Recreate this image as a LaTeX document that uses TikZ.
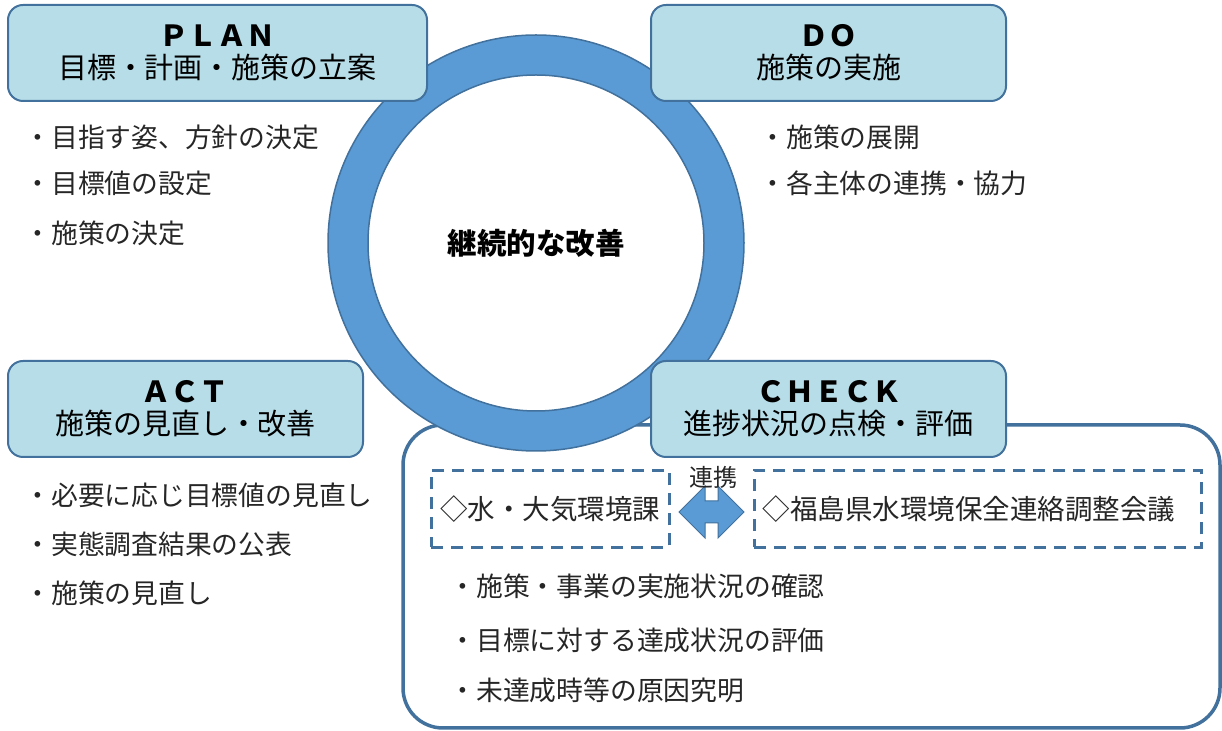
\documentclass[tikz,border=0pt]{standalone}
\usepackage{fontspec}
\setmainfont{Noto Sans CJK JP}
\usetikzlibrary{shapes.arrows,calc}
\definecolor{boxfill}{HTML}{B7DEE8}
\definecolor{boxline}{HTML}{41719C}
\definecolor{ringfill}{HTML}{5B9BD5}
\definecolor{textgray}{HTML}{262626}

\begin{document}
\begin{tikzpicture}[x=0.5pt,y=-0.5pt,
		phase/.style={draw=boxline, line width=1pt, fill=boxfill, rounded corners=7.5pt,
			minimum width=177.5pt, minimum height=48pt, inner sep=0pt, align=center,
			font=\fontsize{14.5}{16}\selectfont},
		item/.style={anchor=west, inner sep=0pt, text=textgray, font=\fontsize{13.4}{16}\selectfont},
		member/.style={draw=boxline, line width=1.5pt, dash pattern=on 6pt off 4pt,
			minimum height=38.5pt, inner sep=0pt, text=textgray, font=\fontsize{13.75}{16}\selectfont},
		link/.style={double arrow, fill=ringfill, draw=boxline, line width=0.5pt,
			inner xsep=0pt, inner ysep=5.25pt, minimum height=32.5pt,
			double arrow head extend=7.5pt, double arrow head indent=0pt}]
		\useasboundingbox (0,0) rectangle (1222,731);
		% area of CHECK
		\draw[boxline, line width=1.75pt, rounded corners=20pt, fill=white] (403,425) rectangle (1220,728);
		% ring of the cycle
		\draw[boxline, line width=0.75pt, fill=ringfill, even odd rule] (536,243) circle (208) (536,243) circle (168);
		\node[font=\bfseries\fontsize{14.75}{16}\selectfont] (kaizen) at (536,243) {継続的な改善};
		% phases
		\node[phase, minimum width=209.5pt] (plan) at (217.5,53) {\textbf{ＰＬＡＮ}\\目標・計画・施策の立案};
		\node[phase] (do) at (828.5,53) {\textbf{ＤＯ}\\施策の実施};
		\node[phase] (act) at (185.5,409) {\textbf{ＡＣＴ}\\施策の見直し・改善};
		\node[phase] (check) at (828.5,409) {\textbf{ＣＨＥＣＫ}\\進捗状況の点検・評価};
		% items of each phase
		\foreach \txt/\y in {目指す姿、方針の決定/137, 目標値の設定/183, 施策の決定/233}
		{
			\node[item] (plan-\y) at (24,\y) {・\txt};
		}
		\foreach \txt/\y in {施策の展開/137, 各主体の連携・協力/183}
		{
			\node[item] (do-\y) at (759,\y) {・\txt};
		}
		\foreach \txt/\y in {必要に応じ目標値の見直し/495, 実態調査結果の公表/544, 施策の見直し/593}
		{
			\node[item] (act-\y) at (24,\y) {・\txt};
		}
		\foreach \txt/\y in {施策・事業の実施状況の確認/586, 目標に対する達成状況の評価/640, 未達成時等の原因究明/690}
		{
			\node[item] (check-\y) at (449,\y) {・\txt};
		}
		% bodies that check
		\node[member, minimum width=119pt] (kacho) at (550,509) {◇水・大気環境課};
		\node[member, minimum width=223.5pt, text width=215pt, align=left] (kaigi) at (977.5,509) {◇福島県水環境保全連絡調整会議};
		\node[link, yshift=-1.5pt] (renkei) at ($(kacho.east)!.5!(kaigi.west)$) {};
		\node[text=textgray, font=\fontsize{12}{14}\selectfont] (renkei-label) at (713,477) {連携};
	\end{tikzpicture}
\end{document}
